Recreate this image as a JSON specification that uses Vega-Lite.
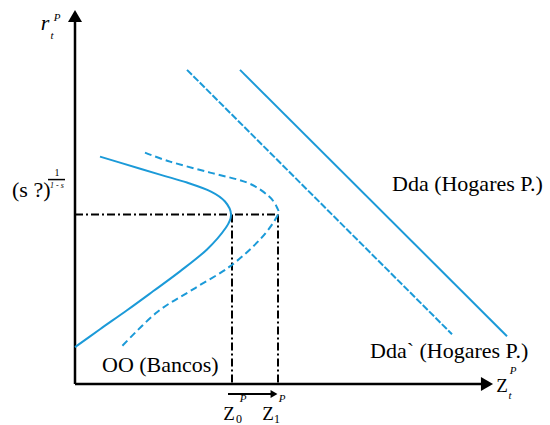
{
  "$schema": "https://vega.github.io/schema/vega-lite/v6.json",
  "width": 550,
  "height": 425,
  "padding": 0,
  "autosize": {"type": "fit", "contains": "padding"},
  "background": "white",
  "config": {"view": {"stroke": null}, "text": {"font": "Liberation Serif, serif", "color": "black"}},
  "datasets": {
    "axes": [
      {"x": 0, "y": 0, "x2": 0, "y2": 372},
      {"x": 0, "y": 0, "x2": 412, "y2": 0}
    ],
    "guides": [
      {"x": 0, "y": 170, "x2": 203, "y2": 170},
      {"x": 157, "y": 170, "x2": 157, "y2": 0},
      {"x": 203, "y": 170, "x2": 203, "y2": 0}
    ],
    "shift": [{"x": 153, "y": -10, "x2": 198, "y2": -10}],
    "demand": [
      {"name": "Dda", "x": 165, "y": 315, "x2": 432, "y2": 48}
    ],
    "demand2": [
      {"name": "Dda`", "x": 112, "y": 315, "x2": 377, "y2": 50}
    ],
    "oo": [
      {"i": 1, "x": 25, "y": 228}, {"i": 2, "x": 45, "y": 222}, {"i": 3, "x": 85, "y": 210},
      {"i": 4, "x": 112, "y": 202}, {"i": 5, "x": 136, "y": 193}, {"i": 6, "x": 150, "y": 183},
      {"i": 7, "x": 156, "y": 170}, {"i": 8, "x": 151, "y": 157}, {"i": 9, "x": 132, "y": 135},
      {"i": 10, "x": 105, "y": 113}, {"i": 11, "x": 78, "y": 93}, {"i": 12, "x": 52, "y": 74},
      {"i": 13, "x": 25, "y": 55}, {"i": 14, "x": 0, "y": 37}
    ],
    "oo2": [
      {"i": 1, "x": 70, "y": 232}, {"i": 2, "x": 95, "y": 223}, {"i": 3, "x": 135, "y": 212},
      {"i": 4, "x": 172, "y": 202}, {"i": 5, "x": 193, "y": 189}, {"i": 6, "x": 202, "y": 177},
      {"i": 7, "x": 202, "y": 168}, {"i": 8, "x": 185, "y": 145}, {"i": 9, "x": 155, "y": 118},
      {"i": 10, "x": 118, "y": 95}, {"i": 11, "x": 82, "y": 72}, {"i": 12, "x": 47, "y": 38}
    ]
  },
  "encoding": {
    "x": {"type": "quantitative", "scale": {"domain": [-75, 475], "nice": false, "zero": false}, "axis": null},
    "y": {"type": "quantitative", "scale": {"domain": [-40, 385], "nice": false, "zero": false}, "axis": null}
  },
  "layer": [
    {
      "data": {"name": "axes"},
      "mark": {"type": "rule", "color": "black", "strokeWidth": 2.5},
      "encoding": {"x": {"field": "x"}, "y": {"field": "y"}, "x2": {"field": "x2"}, "y2": {"field": "y2"}}
    },
    {
      "data": {"values": [{"x": 0, "y": 369}]},
      "mark": {"type": "point", "shape": "triangle-up", "filled": true, "color": "black", "size": 196, "opacity": 1},
      "encoding": {"x": {"field": "x"}, "y": {"field": "y"}}
    },
    {
      "data": {"values": [{"x": 412, "y": 0}]},
      "mark": {"type": "point", "shape": "triangle-right", "filled": true, "color": "black", "size": 196, "opacity": 1},
      "encoding": {"x": {"field": "x"}, "y": {"field": "y"}}
    },
    {
      "data": {"name": "guides"},
      "mark": {"type": "rule", "color": "black", "strokeWidth": 2, "strokeDash": [8, 3, 2, 3]},
      "encoding": {"x": {"field": "x"}, "y": {"field": "y"}, "x2": {"field": "x2"}, "y2": {"field": "y2"}}
    },
    {
      "data": {"name": "shift"},
      "mark": {"type": "rule", "color": "black", "strokeWidth": 2},
      "encoding": {"x": {"field": "x"}, "y": {"field": "y"}, "x2": {"field": "x2"}, "y2": {"field": "y2"}}
    },
    {
      "data": {"values": [{"x": 199, "y": -10}]},
      "mark": {"type": "point", "shape": "triangle-right", "filled": true, "color": "black", "size": 64, "opacity": 1},
      "encoding": {"x": {"field": "x"}, "y": {"field": "y"}}
    },
    {
      "data": {"name": "demand"},
      "mark": {"type": "rule", "color": "#1b9ad8", "strokeWidth": 2},
      "encoding": {"x": {"field": "x"}, "y": {"field": "y"}, "x2": {"field": "x2"}, "y2": {"field": "y2"}}
    },
    {
      "data": {"name": "demand2"},
      "mark": {"type": "rule", "color": "#1b9ad8", "strokeWidth": 2, "strokeDash": [7, 2]},
      "encoding": {"x": {"field": "x"}, "y": {"field": "y"}, "x2": {"field": "x2"}, "y2": {"field": "y2"}}
    },
    {
      "data": {"name": "oo"},
      "mark": {"type": "line", "color": "#1b9ad8", "strokeWidth": 2, "interpolate": "cardinal"},
      "encoding": {"x": {"field": "x"}, "y": {"field": "y"}, "order": {"field": "i", "type": "quantitative"}}
    },
    {
      "data": {"name": "oo2"},
      "mark": {"type": "line", "color": "#1b9ad8", "strokeWidth": 2, "strokeDash": [7, 4], "interpolate": "cardinal"},
      "encoding": {"x": {"field": "x"}, "y": {"field": "y"}, "order": {"field": "i", "type": "quantitative"}}
    },
    {
      "data": {"values": [
        {"t": "OO (Bancos)", "x": 27, "y": 12},
        {"t": "Dda (Hogares P.)", "x": 317, "y": 194},
        {"t": "Dda` (Hogares P.)", "x": 295, "y": 26},
        {"t": "(s ?)", "x": -63, "y": 188}
      ]},
      "mark": {"type": "text", "font": "Liberation Serif, serif", "fontSize": 22, "align": "left", "baseline": "alphabetic"},
      "encoding": {"x": {"field": "x"}, "y": {"field": "y"}, "text": {"field": "t"}}
    },
    {
      "data": {"values": [{"t": "r", "x": -30, "y": 355}]},
      "mark": {"type": "text", "font": "Liberation Serif, serif", "fontSize": 22, "fontStyle": "italic", "align": "center", "baseline": "alphabetic"},
      "encoding": {"x": {"field": "x"}, "y": {"field": "y"}, "text": {"field": "t"}}
    },
    {
      "data": {"values": [
        {"t": "Z", "x": 154, "y": -36},
        {"t": "Z", "x": 193, "y": -36},
        {"t": "Z", "x": 427, "y": -8}
      ]},
      "mark": {"type": "text", "font": "Liberation Serif, serif", "fontSize": 19, "align": "center", "baseline": "alphabetic"},
      "encoding": {"x": {"field": "x"}, "y": {"field": "y"}, "text": {"field": "t"}}
    },
    {
      "data": {"values": [
        {"t": "P", "x": -18, "y": 367},
        {"t": "P", "x": 168, "y": -15},
        {"t": "P", "x": 207, "y": -15},
        {"t": "P", "x": 438, "y": 13},
        {"t": "t", "x": -23, "y": 349},
        {"t": "t", "x": 435, "y": -12}
      ]},
      "mark": {"type": "text", "font": "Liberation Serif, serif", "fontSize": 11, "fontStyle": "italic", "align": "center", "baseline": "middle"},
      "encoding": {"x": {"field": "x"}, "y": {"field": "y"}, "text": {"field": "t"}}
    },
    {
      "data": {"values": [
        {"t": "0", "x": 164, "y": -35},
        {"t": "1", "x": 202, "y": -35}
      ]},
      "mark": {"type": "text", "font": "Liberation Serif, serif", "fontSize": 12, "align": "center", "baseline": "middle"},
      "encoding": {"x": {"field": "x"}, "y": {"field": "y"}, "text": {"field": "t"}}
    },
    {
      "data": {"values": [{"t": "1", "x": -18, "y": 212}]},
      "mark": {"type": "text", "font": "Liberation Serif, serif", "fontSize": 10, "align": "center", "baseline": "middle"},
      "encoding": {"x": {"field": "x"}, "y": {"field": "y"}, "text": {"field": "t"}}
    },
    {
      "data": {"values": [{"t": "1 - s", "x": -18, "y": 199}]},
      "mark": {"type": "text", "font": "Liberation Serif, serif", "fontSize": 8, "fontStyle": "italic", "align": "center", "baseline": "middle"},
      "encoding": {"x": {"field": "x"}, "y": {"field": "y"}, "text": {"field": "t"}}
    },
    {
      "data": {"values": [{"x": -27, "y": 205, "x2": -10, "y2": 205}]},
      "mark": {"type": "rule", "color": "black", "strokeWidth": 1.5},
      "encoding": {"x": {"field": "x"}, "y": {"field": "y"}, "x2": {"field": "x2"}, "y2": {"field": "y2"}}
    }
  ]
}
